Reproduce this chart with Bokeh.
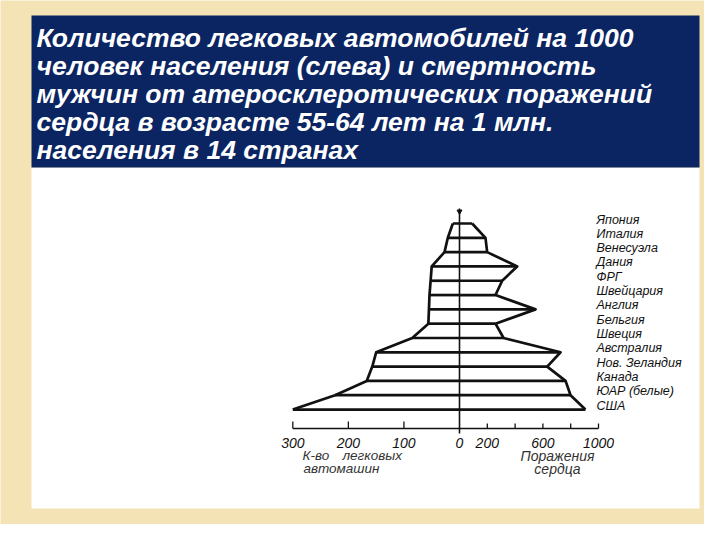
from bokeh.plotting import figure
from bokeh.models import Range1d
from bokeh.core.properties import value
from bokeh.embed import file_html
from bokeh.resources import INLINE

# ---------------- data ----------------
countries = ["Япония", "Италия", "Венесуэла", "Дания", "ФРГ", "Швейцария", "Англия",
             "Бельгия", "Швеция", "Австралия", "Нов. Зеландия", "Канада",
             "ЮАР (белые)", "США"]
cars = [12, 21, 27, 50, 52, 54, 55, 56, 85, 150, 157, 167, 224, 300]
heart = [91, 187, 199, 415, 307, 259, 547, 259, 317, 727, 631, 763, 799, 906]
rows = list(range(len(countries)))

car_ticks = [300, 200, 100]
car_tick_labels = ["300", "200", "100"]
heart_ticks = [200, 400, 600, 800, 1000]
heart_label_values = [0, 200, 600, 1000]
heart_tick_labels = ["0", "200", "600", "1000"]

title_lines = [
    "Количество легковых автомобилей на 1000",
    "человек населения  (слева) и смертность",
    "мужчин от атеросклеротических  поражений",
    "сердца в возрасте 55-64 лет на 1 млн.",
    "населения в 14 странах",
]
left_title_words = ["К-во", "легковых", "автомашин"]
right_title = ["Поражения", "сердца"]

# ---------------- colours / fonts ----------------
BEIGE = "#f3e3b5"
NAVY = "#0b2462"
INK = "#111111"
HAND = value("Liberation Sans")

W, H = 704, 524
p = figure(width=W, height=H, output_backend="svg", toolbar_location=None,
           x_range=Range1d(0, W), y_range=Range1d(H, 0),
           x_axis_location=None, y_axis_location=None, min_border=0)
p.min_border_left = p.min_border_right = p.min_border_top = p.min_border_bottom = 0
p.grid.visible = False
p.outline_line_color = None
p.background_fill_color = BEIGE
p.border_fill_color = BEIGE

# scales: 0 of both sides at x=459 px; cars 0.5556 px/unit leftwards, heart 0.139 px/unit
X0 = 459.0
CAR_PX = 0.5556
HEART_PX = 0.139
ROW_Y0, ROW_DY = 223.0, 14.31
p.extra_x_ranges = {
    "cars": Range1d(X0 / CAR_PX, (X0 - W) / CAR_PX),
    "heart": Range1d(-X0 / HEART_PX, (W - X0) / HEART_PX),
}
p.extra_y_ranges = {
    "row": Range1d((H - ROW_Y0) / ROW_DY, -ROW_Y0 / ROW_DY),
}

# slide panel
p.quad(left=31, right=699, top=167, bottom=508, fill_color="white", line_color=None)
p.quad(left=31, right=699, top=15, bottom=167, fill_color=NAVY, line_color=None)

# title
p.text(x=36, y=[37 + 28 * i for i in range(len(title_lines))], text=title_lines,
       text_color="white", text_font=value("Liberation Sans"), text_font_size="26.5px",
       text_font_style="bold italic", text_baseline="middle", text_align="left")

# horizontal row lines
LW = 2.7
p.segment(x0=0, y0=rows, x1=cars, y1=rows, x_range_name="cars", y_range_name="row",
          line_color=INK, line_width=LW)
p.segment(x0=0, y0=rows, x1=heart, y1=rows, x_range_name="heart", y_range_name="row",
          line_color=INK, line_width=LW)
# outlines
p.line(x=cars, y=rows, x_range_name="cars", y_range_name="row",
       line_color=INK, line_width=LW, line_join="round")
p.line(x=heart, y=rows, x_range_name="heart", y_range_name="row",
       line_color=INK, line_width=LW, line_join="round")

# axes
AX_Y = 428
p.segment(x0=0, y0=AX_Y, x1=max(car_ticks), y1=AX_Y, x_range_name="cars",
          line_color=INK, line_width=1.6)
p.segment(x0=0, y0=AX_Y, x1=max(heart_ticks), y1=AX_Y, x_range_name="heart",
          line_color=INK, line_width=1.6)
p.segment(x0=car_ticks, y0=AX_Y - 7, x1=car_ticks, y1=AX_Y, x_range_name="cars",
          line_color=INK, line_width=1.3)
p.segment(x0=heart_ticks, y0=AX_Y - 5, x1=heart_ticks, y1=AX_Y, x_range_name="heart",
          line_color=INK, line_width=1.3)
p.segment(x0=0, y0=208, x1=0, y1=433, x_range_name="heart",
          line_color=INK, line_width=1.6)
p.scatter(x=[0], y=[211], marker="inverted_triangle", size=5, x_range_name="heart",
          fill_color=INK, line_color=INK)

# tick labels
p.text(x=car_ticks, y=442, text=car_tick_labels, x_range_name="cars",
       text_font=HAND, text_font_size="14px", text_font_style="italic",
       text_color=INK, text_align="center", text_baseline="middle")
p.text(x=heart_label_values, y=442, text=heart_tick_labels, x_range_name="heart",
       text_font=HAND, text_font_size="14px", text_font_style="italic",
       text_color=INK, text_align="center", text_baseline="middle")

# axis titles
p.text(x=[302, 342, 303], y=[455, 455, 468], text=left_title_words, text_font=HAND,
       text_font_size="13.5px", text_font_style="italic", text_color="#333333",
       text_align="left", text_baseline="middle")
p.text(x=557, y=[455, 468], text=right_title, text_font=HAND, text_font_size="14px",
       text_font_style="italic", text_color="#333333", text_align="center",
       text_baseline="middle")

# country labels
p.text(x=596, y=rows, text=countries, y_range_name="row", y_offset=-4,
       text_font=HAND, text_font_size="12.5px", text_font_style="italic",
       text_color=INK, text_align="left", text_baseline="middle")

html = file_html(p, INLINE)
html = html.replace("<body>", '<body style="background:%s">' % BEIGE, 1)
open("out.html", "w").write(html)
